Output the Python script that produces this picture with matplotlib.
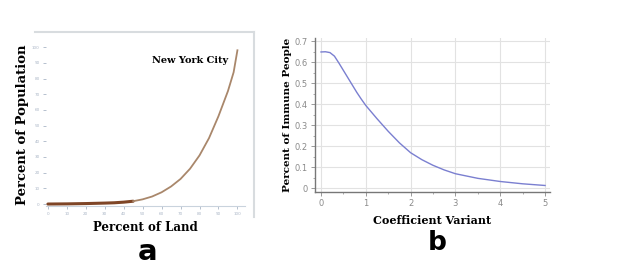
import matplotlib.pyplot as plt
from matplotlib.ticker import MultipleLocator

# Panel a: percent of land vs percent of population (New York City)
land_pct = [0, 5, 10, 15, 20, 25, 30, 35, 40, 45, 50, 55, 60, 65, 70, 75, 80, 85, 90, 95, 98, 100]
pop_pct = [0, 0.05, 0.1, 0.2, 0.3, 0.45, 0.6, 0.8, 1.2, 1.8, 3.0, 4.8, 7.5, 11.2, 16.0, 22.5,
           31.0, 42.0, 56.0, 72.0, 84.0, 98.0]

# Panel b: coefficient variant vs percent of immune people
coef_var = [0, 0.1, 0.2, 0.3, 0.4, 0.5, 0.6, 0.7, 0.8, 0.9, 1.0, 1.25, 1.5, 1.75, 2.0,
            2.25, 2.5, 2.75, 3.0, 3.5, 4.0, 4.5, 5.0]
immune = [0.648, 0.649, 0.645, 0.628, 0.595, 0.56, 0.525, 0.49, 0.455, 0.423, 0.393, 0.33,
          0.27, 0.215, 0.168, 0.135, 0.108, 0.086, 0.068, 0.046, 0.031, 0.020, 0.012]

serif = ['DejaVu Serif']

fig = plt.figure(figsize=(6.21, 2.70), dpi=100)

# thin grey frame around panel a (top and right only)
fig.add_artist(plt.Line2D([35/621, 254/621], [1-32/270, 1-32/270],
                          color='#d8dcdf', lw=1.5, transform=fig.transFigure))
fig.add_artist(plt.Line2D([254/621, 254/621], [1-32/270, 1-217/270],
                          color='#d8dcdf', lw=1.5, transform=fig.transFigure))

# ---- panel a ----
ax1 = fig.add_axes([46/621, 0.2385, 199/621, 0.5985])
ax1.plot(land_pct[:10], pop_pct[:10], color='#7f4526', lw=2.2, solid_capstyle='round')
ax1.plot(land_pct[9:], pop_pct[9:], color='#a9876b', lw=1.3)
ax1.set_xlim(-1, 104)
ax1.set_ylim(-1, 102)
ax1.set_xticks(range(0, 101, 10))
ax1.set_yticks(range(0, 101, 10))
ax1.tick_params(labelsize=3, colors='#aab6c6', length=2.5, width=0.6, pad=2)
for side in ['top', 'right', 'left']:
    ax1.spines[side].set_visible(False)
ax1.spines['bottom'].set_color('#c9d3dd')
ax1.text(0.915, 0.895, 'New York City', transform=ax1.transAxes, ha='right', va='center',
         fontsize=7, fontweight='bold', family=serif)
ax1.set_ylabel('Percent of Population', fontsize=9.5, fontweight='bold', family=serif)
ax1.yaxis.set_label_coords(-0.085, 0.5)
ax1.set_xlabel('Percent of Land', fontsize=8.5, fontweight='bold', family=serif, labelpad=4)
fig.text(148/621, 1-252/270, 'a', ha='center', va='center', fontsize=21, fontweight='bold')

# ---- panel b ----
ax2 = fig.add_axes([315/621, 0.29, 235/621, 0.568])
ax2.plot(coef_var, immune, color='#7a7fd0', lw=1.0)
ax2.set_xlim(-0.134, 5.11)
ax2.set_ylim(-0.0176, 0.7129)
ax2.set_xticks(range(0, 6))
ax2.set_yticks([0, 0.1, 0.2, 0.3, 0.4, 0.5, 0.6, 0.7])
ax2.set_yticklabels(['0', '0.1', '0.2', '0.3', '0.4', '0.5', '0.6', '0.7'])
ax2.xaxis.set_minor_locator(MultipleLocator(0.5))
ax2.yaxis.set_minor_locator(MultipleLocator(0.05))
ax2.grid(True, color='#e2e2e2', lw=0.8)
ax2.tick_params(which='major', labelsize=6, colors='#8a8a8a', length=3, width=0.6, pad=2)
ax2.tick_params(which='minor', colors='#8a8a8a', length=1.5, width=0.5)
for side in ['top', 'right']:
    ax2.spines[side].set_visible(False)
for side in ['left', 'bottom']:
    ax2.spines[side].set_color('#777777')
    ax2.spines[side].set_linewidth(1.0)
ax2.set_ylabel('Percent of Immune People', fontsize=7.5, fontweight='bold', family=serif)
ax2.yaxis.set_label_coords(-0.1, 0.5)
ax2.set_xlabel('Coefficient Variant', fontsize=8, fontweight='bold', family=serif, labelpad=5)
fig.text(437/621, 1-243/270, 'b', ha='center', va='center', fontsize=19, fontweight='bold')

fig.savefig('out.png', dpi=100)
